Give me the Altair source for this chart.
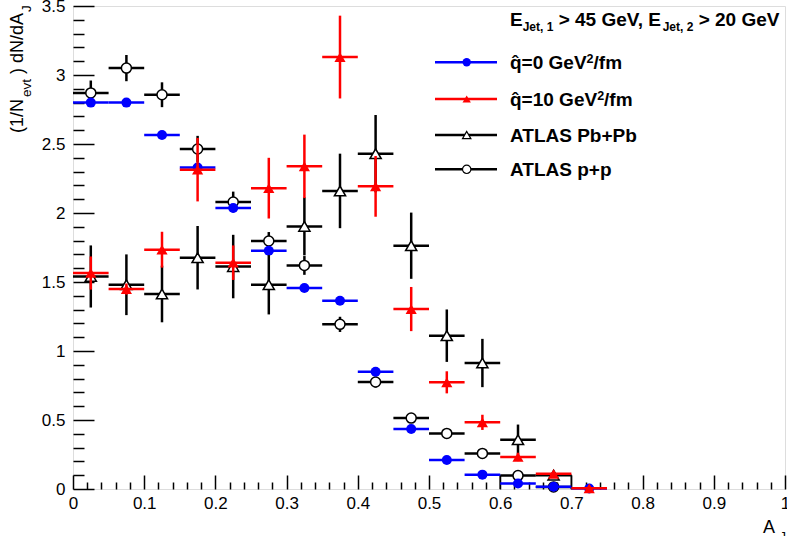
import altair as alt
import pandas as pd

# ---------------- data ----------------
aj_centers = [0.025, 0.075, 0.125, 0.175, 0.225, 0.275, 0.325, 0.375,
              0.425, 0.475, 0.525, 0.575, 0.625, 0.675, 0.725]
bin_half_width = 0.025

q0_val = [2.80, 2.80, 2.565, 2.33, 2.036, 1.727, 1.456, 1.364,
          0.85, 0.435, 0.21, 0.104, 0.040, 0.016, 0.003]

q10_val = [1.565, 1.449, 1.734, 2.314, 1.640, 2.18, 2.338, 3.13,
           2.193, 1.304, 0.773, 0.483, 0.232, 0.11, 0.005]
q10_err = [0.12, 0.04, 0.13, 0.23, 0.125, 0.22, 0.23, 0.30,
           0.22, 0.16, 0.08, 0.055, 0.03, 0.02, 0.005]

pbpb_val = [1.54, 1.48, 1.413, 1.676, 1.612, 1.48, 1.903, 2.16,
            2.43, 1.763, 1.111, 0.913, 0.357, 0.10]
pbpb_err = [0.225, 0.22, 0.205, 0.23, 0.23, 0.215, 0.21, 0.27,
            0.28, 0.24, 0.19, 0.175, 0.11, 0.02]

pp_val = [2.87, 3.05, 2.857, 2.464, 2.08, 1.797, 1.62, 1.193,
          0.775, 0.514, 0.403, 0.258, 0.097, 0.015]
pp_err = [0.09, 0.095, 0.09, 0.095, 0.075, 0.065, 0.068, 0.055,
          0.04, 0.02, 0.015, 0.015, 0.01, 0.01]

x_major = [0, 0.1, 0.2, 0.3, 0.4, 0.5, 0.6, 0.7, 0.8, 0.9, 1.0]
x_minor = [0.02, 0.04, 0.06, 0.08, 0.12, 0.14, 0.16, 0.18, 0.22, 0.24, 0.26, 0.28,
           0.32, 0.34, 0.36, 0.38, 0.42, 0.44, 0.46, 0.48, 0.52, 0.54, 0.56, 0.58,
           0.62, 0.64, 0.66, 0.68, 0.72, 0.74, 0.76, 0.78, 0.82, 0.84, 0.86, 0.88,
           0.92, 0.94, 0.96, 0.98]
y_major = [0, 0.5, 1.0, 1.5, 2.0, 2.5, 3.0, 3.5]
y_minor = [0.1, 0.2, 0.3, 0.4, 0.6, 0.7, 0.8, 0.9, 1.1, 1.2, 1.3, 1.4,
           1.6, 1.7, 1.8, 1.9, 2.1, 2.2, 2.3, 2.4, 2.6, 2.7, 2.8, 2.9,
           3.1, 3.2, 3.3, 3.4]

legend_labels = ["q\u0302=0 GeV", "q\u0302=10 GeV", "ATLAS Pb+Pb", "ATLAS p+p"]

FONT = "Liberation Sans"
W, H = 712, 483

xs = alt.Scale(domain=[0, 1], nice=False, zero=False)
ys = alt.Scale(domain=[0, 3.5], nice=False, zero=False)


def table(vals, errs):
    n = len(vals)
    c = aj_centers[:n]
    return pd.DataFrame({
        "aj": c,
        "lo": [v - bin_half_width for v in c],
        "hi": [v + bin_half_width for v in c],
        "val": vals,
        "ylo": [v - e for v, e in zip(vals, errs)],
        "yhi": [v + e for v, e in zip(vals, errs)],
    })


def series(df, color, shape, size, fill, stroke, sw, with_v=True):
    base = alt.Chart(df)
    layers = [base.mark_rule(color=color, strokeWidth=2.5).encode(
        x=alt.X("lo:Q", scale=xs, axis=None), x2="hi:Q",
        y=alt.Y("val:Q", scale=ys, axis=None))]
    if with_v:
        layers.append(base.mark_rule(color=color, strokeWidth=2.5).encode(
            x=alt.X("aj:Q", scale=xs, axis=None),
            y=alt.Y("ylo:Q", scale=ys, axis=None), y2="yhi:Q"))
    layers.append(base.mark_point(shape=shape, size=size, filled=True, fill=fill,
                                  stroke=stroke, strokeWidth=sw, opacity=1).encode(
        x=alt.X("aj:Q", scale=xs, axis=None),
        y=alt.Y("val:Q", scale=ys, axis=None)))
    return layers


q0_df = table(q0_val, [0] * len(q0_val))
q10_df = table(q10_val, q10_err)
pbpb_df = table(pbpb_val, pbpb_err)
pp_df = table(pp_val, pp_err)

# axes (ticks drawn inside the frame)
axis_df = pd.DataFrame({"x": [0, 1], "y": [0, 3.5]})
major_axes = alt.Chart(axis_df).mark_point(opacity=0).encode(
    x=alt.X("x:Q", scale=xs, axis=alt.Axis(
        values=x_major, format=".1~f", orient="bottom", offset=-14, tickSize=14,
        domain=False, grid=False, labelFont=FONT, labelFontSize=17, labelColor="black",
        tickColor="black", tickWidth=1.5, labelPadding=6, labelFlush=False,
        labelOverlap=False, title=None)),
    y=alt.Y("y:Q", scale=ys, axis=alt.Axis(
        values=y_major, format=".1~f", orient="left", offset=-21, tickSize=21,
        domain=False, grid=False, labelFont=FONT, labelFontSize=17, labelColor="black",
        tickColor="black", tickWidth=1.5, labelPadding=8, labelFlush=False,
        labelOverlap=False, title=None)),
)
minor_axes = alt.Chart(axis_df).mark_point(opacity=0).encode(
    x=alt.X("x:Q", scale=xs, axis=alt.Axis(
        values=x_minor, orient="bottom", offset=-7, tickSize=7, labels=False,
        domain=False, grid=False, tickColor="black", tickWidth=1.5, title=None)),
    y=alt.Y("y:Q", scale=ys, axis=alt.Axis(
        values=y_minor, orient="left", offset=-11, tickSize=11, labels=False,
        domain=False, grid=False, tickColor="black", tickWidth=1.5, title=None)),
)

# vertical edge strokes drawn by the original at the end of the black histograms
edge_df = pd.DataFrame({"x": [0.6, 0.7], "top": [pp_val[12], pbpb_val[13]], "bot": [0, 0]})
edges = alt.Chart(edge_df).mark_rule(color="black", strokeWidth=1.5).encode(
    x=alt.X("x:Q", scale=xs, axis=None),
    y=alt.Y("bot:Q", scale=ys, axis=None), y2="top:Q")

layers = [major_axes, minor_axes, edges]
layers += series(pp_df, "black", "circle", 100, "white", "black", 1.5)
layers += series(q0_df, "#0000ff", "circle", 100, "#0000ff", "#0000ff", 0, with_v=False)
layers += series(pbpb_df, "black", "triangle-up", 125, "white", "black", 1.5)
layers += series(q10_df, "#ff0000", "triangle-up", 125, "#ff0000", "#ff0000", 0)

# ---------------- text helpers ----------------
REG = {' ': 278, '(': 333, ')': 333, '/': 278, '1': 556, 'N': 722, 'd': 556,
       'A': 667, 'e': 556, 'v': 500, 't': 278, 'J': 500}
BOLD = {'E': 667, 'J': 556, 'e': 556, 't': 333, ',': 278, ' ': 278, '1': 556,
        '2': 556, '>': 584, '4': 556, '5': 556, '0': 556, 'G': 778, 'V': 667, 'q': 611,
        '=': 584, '/': 278, 'f': 333, 'm': 889, 'A': 722, 'T': 611, 'L': 611, 'S': 667,
        'P': 667, 'b': 611, '+': 584, 'p': 611, '\u0302': 0}


def twidth(s, size, bold):
    m = BOLD if bold else REG
    return sum(m.get(ch, 556) for ch in s) * size / 1000.0


def text(s, x, y, size, bold=False, angle=0, align="left", baseline="alphabetic", color="black"):
    return alt.Chart(pd.DataFrame({"t": [s]})).mark_text(
        font=FONT, fontSize=size, fontWeight="bold" if bold else "normal",
        align=align, baseline=baseline, angle=angle, color=color).encode(
        x=alt.value(x), y=alt.value(y), text="t:N")


def run(pieces, x0, bold):
    """pieces: list of (string, size, baseline_y); composed left to right.
    Leading spaces are turned into an x advance (SVG collapses them)."""
    out = []
    x = x0
    for s, size, by in pieces:
        stripped = s.lstrip(" ")
        x += twidth(s[:len(s) - len(stripped)], size, bold)
        out.append(text(stripped, x, by, size, bold=bold))
        x += twidth(stripped, size, bold)
    return out


# header
layers += run([("E", 19, 20), ("Jet, 1", 12, 24.5), (" > 45 GeV, E", 19, 20),
               ("Jet, 2", 12, 24.5), (" > 20 GeV", 19, 20)], 437, True)

# legend
rows = [56.3, 93, 129, 163.3]
leg_style = [("#0000ff", "circle", "#0000ff", "#0000ff", 0),
             ("#ff0000", "triangle-up", "#ff0000", "#ff0000", 0),
             ("black", "triangle-up", "white", "black", 1.2),
             ("black", "circle", "white", "black", 1.2)]
one = pd.DataFrame({"a": [0]})
for i, (lab, (col, shp, fil, stk, sw)) in enumerate(zip(legend_labels, leg_style)):
    ry = rows[i]
    layers.append(alt.Chart(one).mark_rule(color=col, strokeWidth=2.5).encode(
        x=alt.value(362), x2=alt.value(424), y=alt.value(ry)))
    layers.append(alt.Chart(one).mark_point(shape=shp, size=70, filled=True, fill=fil,
                                            stroke=stk, strokeWidth=sw, opacity=1).encode(
        x=alt.value(393.7), y=alt.value(ry)))
    bl = ry + 6.8
    if i < 2:
        layers += run([(lab, 19, bl), ("2", 12.5, bl - 6), ("/fm", 19, bl)], 437, True)
    else:
        layers.append(text(lab, 437, bl, 19, bold=True))

# y-axis title (rotated), composed of pieces with subscripts
layers.append(text("(1/N", -50, 127, 18, angle=270))
layers.append(text("evt", -42.3, 91, 13.5, angle=270))
layers.append(text(") dN/dA", -50, 68, 18, angle=270))
layers.append(text("J", -42.3, 6, 13.5, angle=270))

# x-axis title
layers.append(text("A", 690, 527, 18))
layers.append(text("J", 706.5, 535, 13))

chart = alt.layer(*layers).resolve_axis(x="independent", y="independent").properties(
    width=W, height=H,
    padding={"left": 73, "top": 6, "right": 2, "bottom": 47},
    autosize=alt.AutoSizeParams(type="none"),
).configure_view(stroke="black", strokeWidth=1.5).configure(background="white")

chart.save("out.html", embed_options={"renderer": "svg", "actions": False})
